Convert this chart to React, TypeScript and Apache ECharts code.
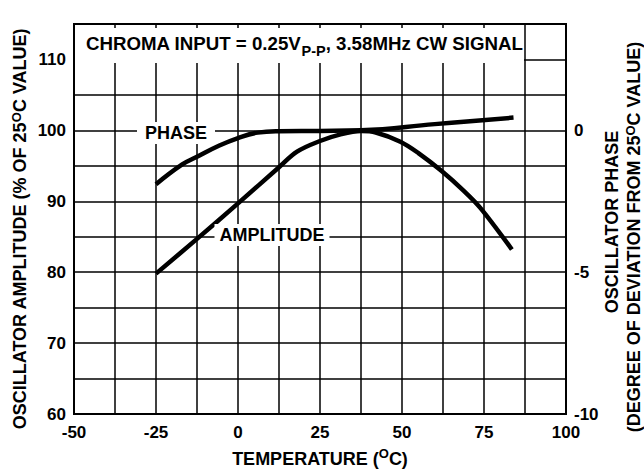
import React, { useEffect, useRef } from "react";
import * as echarts from "echarts";

const xTicks = [-50, -25, 0, 25, 50, 75, 100];
const leftTicks = [60, 70, 80, 90, 100, 110];
const rightTicks = [-10, -5, 0];

const ampTemp = [-25, -12.5, 0, 12.5, 18, 25, 31, 37.5, 42, 49.5, 55, 62, 69, 74, 83.5];
const ampPct = [79.8, 84.7, 89.7, 94.8, 97.0, 98.5, 99.4, 99.9, 99.7, 98.4, 96.8, 94.3, 91.4, 89.0, 83.2];

const phaseTemp = [-25, -17, -12.5, -6, 0, 6, 12.5, 25, 37.5, 60, 84];
const phaseDeg = [-1.9, -1.2, -0.93, -0.55, -0.27, -0.08, -0.03, -0.02, 0, 0.22, 0.45];

const FONT = "'Liberation Sans', Arial, Helvetica, sans-serif";

export default function App() {
  const ref = useRef<HTMLDivElement>(null);
  useEffect(() => {
    const chart = echarts.init(ref.current!, null, { renderer: "svg" });
    const lab = { color: "#000", fontWeight: "bold", fontSize: 17, fontFamily: FONT };
    const nameRich = {
      a: { fill: "#000", fontWeight: "bold", fontSize: 18, fontFamily: FONT, lineHeight: 24, verticalAlign: "middle" },
      s: { fill: "#000", fontWeight: "bold", fontSize: 13, fontFamily: FONT, lineHeight: 14, verticalAlign: "top" },
    };
    const sideRich = {
      a: { fill: "#000", fontWeight: "bold", fontSize: 18, fontFamily: FONT, lineHeight: 20, verticalAlign: "middle" },
      s: { fill: "#000", fontWeight: "bold", fontSize: 13, fontFamily: FONT, lineHeight: 10, verticalAlign: "top" },
    };
    chart.setOption({
      animation: false,
      grid: { left: 74, top: 24, width: 492, height: 390, show: true, borderColor: "#000", borderWidth: 2, backgroundColor: "#fff" },
      xAxis: {
        type: "value",
        min: -50,
        max: 100,
        interval: 12.5,
        axisLine: { show: false },
        axisTick: { show: false },
        splitLine: { show: true, lineStyle: { color: "#000", width: 1.5 } },
        axisLabel: { ...lab, margin: 10, formatter: (v: number) => (xTicks.includes(v) ? String(v) : "") },
      },
      yAxis: [
        {
          type: "value",
          min: 60,
          max: 115,
          interval: 5,
          axisLine: { show: false },
          axisTick: { show: false },
          splitLine: { show: true, lineStyle: { color: "#000", width: 1.5 } },
          axisLabel: { ...lab, margin: 8, formatter: (v: number) => (leftTicks.includes(v) ? String(v) : "") },
        },
        {
          type: "value",
          min: -10,
          max: 3.75,
          interval: 5,
          position: "right",
          axisLine: { show: false },
          axisTick: { show: false },
          splitLine: { show: false },
          axisLabel: { ...lab, margin: 8, formatter: (v: number) => (rightTicks.includes(v) ? String(v) : "") },
        },
      ],
      series: [
        {
          type: "line",
          yAxisIndex: 1,
          data: phaseTemp.map((t, i) => [t, phaseDeg[i]]),
          smooth: 0.45,
          showSymbol: false,
          lineStyle: { color: "#000", width: 4.5, cap: "butt" },
          z: 5,
        },
        {
          type: "line",
          yAxisIndex: 0,
          data: ampTemp.map((t, i) => [t, ampPct[i]]),
          smooth: 0.35,
          showSymbol: false,
          lineStyle: { color: "#000", width: 4.5, cap: "butt" },
          z: 5,
        },
      ],
      graphic: [
        { type: "rect", z: 100, shape: { x: 75, y: 28, width: 449, height: 35 }, style: { fill: "#fff" } },
        {
          type: "text",
          z: 101,
          x: 86,
          y: 43,
          style: {
            text: "{a|CHROMA INPUT = 0.25V}{sub|P-P}{a|, 3.58MHz CW SIGNAL}",
            align: "left",
            verticalAlign: "middle",
            rich: {
              a: { fill: "#000", fontWeight: "bold", fontSize: 18.7, fontFamily: FONT, lineHeight: 30, verticalAlign: "middle" },
              sub: { fill: "#000", fontWeight: "bold", fontSize: 14.5, fontFamily: FONT, lineHeight: 15, verticalAlign: "bottom" },
            },
          },
        },
        {
          type: "text",
          z: 101,
          x: 176,
          y: 133,
          style: {
            text: "PHASE",
            fill: "#000",
            fontWeight: "bold",
            fontSize: 18,
            fontFamily: FONT,
            align: "center",
            verticalAlign: "middle",
            backgroundColor: "#fff",
            padding: [2, 8],
          },
        },
        {
          type: "text",
          z: 101,
          x: 272,
          y: 235,
          style: {
            text: "AMPLITUDE",
            fill: "#000",
            fontWeight: "bold",
            fontSize: 18,
            fontFamily: FONT,
            align: "center",
            verticalAlign: "middle",
            backgroundColor: "#fff",
            padding: [2, 5],
          },
        },
        {
          type: "text",
          z: 101,
          x: 320,
          y: 459,
          style: { text: "{a|TEMPERATURE (}{s|O}{a|C)}", align: "center", verticalAlign: "middle", rich: nameRich },
        },
        {
          type: "text",
          z: 101,
          x: 20,
          y: 229,
          rotation: Math.PI / 2,
          style: { text: "{a|OSCILLATOR AMPLITUDE (% OF 25}{s|O}{a|C VALUE)}", align: "center", verticalAlign: "middle", rich: sideRich },
        },
        {
          type: "text",
          z: 101,
          x: 612,
          y: 222,
          rotation: Math.PI / 2,
          style: { text: "{a|OSCILLATOR PHASE}", align: "center", verticalAlign: "middle", rich: sideRich },
        },
        {
          type: "text",
          z: 101,
          x: 634,
          y: 237,
          rotation: Math.PI / 2,
          style: { text: "{a|(DEGREE OF DEVIATION FROM 25}{s|O}{a|C VALUE)}", align: "center", verticalAlign: "middle", rich: sideRich },
        },
      ],
    });
    return () => chart.dispose();
  }, []);
  return <div ref={ref} style={{ position: "fixed", left: 0, top: 0, width: 644, height: 469, background: "#fff" }} />;
}
